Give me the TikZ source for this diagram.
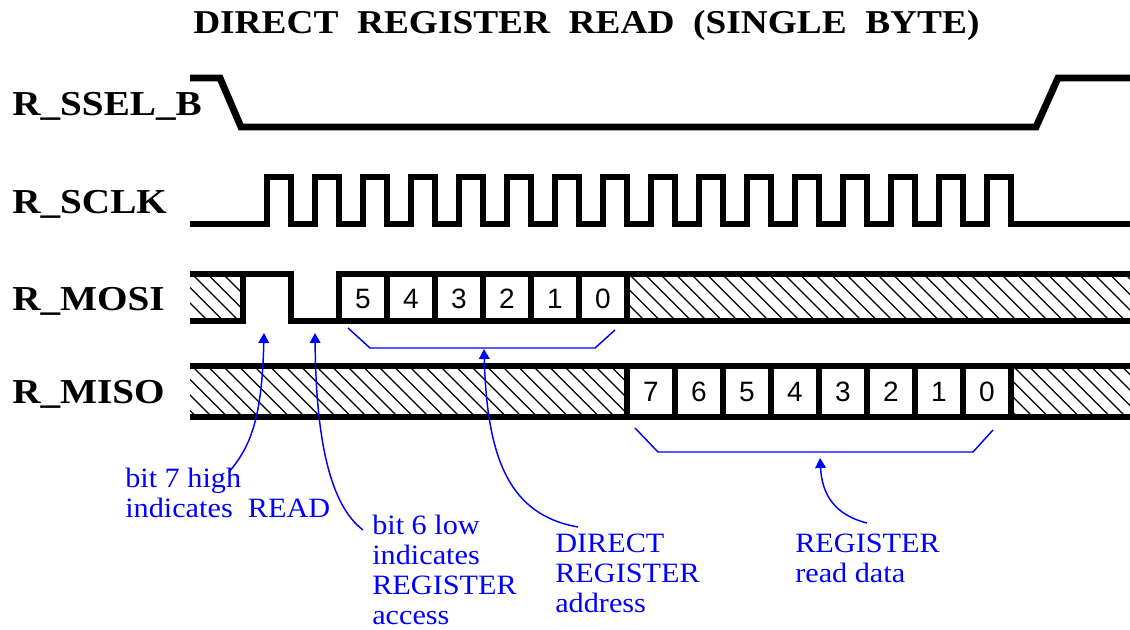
\documentclass[tikz,border=0pt]{standalone}
\usepackage{fontspec}
\setmainfont{Liberation Serif}
\newfontfamily\lblfont[FakeStretch=1.12]{Liberation Serif}
\newfontfamily\annfont[FakeStretch=1.08]{Liberation Serif}
\newfontfamily\digfont{Liberation Sans}
\usetikzlibrary{arrows.meta}
\definecolor{annblue}{RGB}{0,0,255}
\newcommand\hatchbox[4]{%
  \begin{scope}
    \clip (#1,#2) rectangle (#3,#4);
    \foreach \k in {0,...,40}{\draw[hatchline] ({#1-60+\k*15.5},#2) -- ++(60,60);}
  \end{scope}}
\begin{document}
\begin{tikzpicture}[x=0.75pt,y=-0.75pt,
  sig/.style={line width=5.2pt, line join=miter, line cap=butt},
  hatchline/.style={line width=0.9pt},
  ann/.style={draw=annblue, line width=1.1pt},
  annarrow/.style={ann, -{Triangle[length=7.5pt,width=8pt]}},
  anntext/.style={text=annblue, font=\annfont\fontsize{21pt}{22.5pt}\selectfont, inner sep=0pt, anchor=base west},
  siglabel/.style={font=\lblfont\bfseries\fontsize{26.25pt}{28pt}\selectfont, inner sep=0pt, anchor=base west},
  titlestyle/.style={font=\lblfont\bfseries\fontsize{25pt}{28pt}\selectfont, inner sep=0pt, anchor=base west},
  digit/.style={font=\digfont\fontsize{21pt}{24pt}\selectfont, inner sep=0pt}]
\useasboundingbox[fill=white] (0,0) rectangle (1130,629);

% title
\node[titlestyle] (title) at (193,33) {DIRECT\ \ REGISTER\ \ READ\ \ (SINGLE\ \ BYTE)};

% signal labels
\node[siglabel] (lssel) at (12,115) {R\_SSEL\_B};
\node[siglabel] (lsclk) at (12,213) {R\_SCLK};
\node[siglabel] (lmosi) at (12,310) {R\_MOSI};
\node[siglabel] (lmiso) at (12,403) {R\_MISO};

% R_SSEL_B
\draw[sig] (190,78) -- (220,78) -- (241,127) -- (1036,127) -- (1058,78) -- (1130,78);

% R_SCLK
\draw[sig] (190,224) \foreach \k in {0,...,15}{ -- ({267+48*\k},224) -- ({267+48*\k},177) -- ({291+48*\k},177) -- ({291+48*\k},224) } -- (1130,224);

% R_MOSI
\hatchbox{190}{274}{243}{321}
\hatchbox{627}{274}{1130}{321}
\draw[sig] (190,274) -- (291,274) -- (291,321) -- (1130,321);
\draw[sig] (190,321) -- (243,321) -- (243,274);
\draw[sig] (339,321) -- (339,274) -- (1130,274);
\foreach \x in {387,435,...,627} \draw[sig] (\x,274) -- (\x,321);
\foreach \d [count=\i from 0] in {5,4,3,2,1,0}
  \node[digit] (mo\i) at ({363+48*\i},298.5) {\d};

% R_MISO
\hatchbox{190}{366}{627}{417}
\hatchbox{1011}{366}{1130}{417}
\draw[sig] (190,366) -- (1130,366);
\draw[sig] (190,417) -- (1130,417);
\foreach \x in {627,675,...,1011} \draw[sig] (\x,366) -- (\x,417);
\foreach \d [count=\i from 0] in {7,6,5,4,3,2,1,0}
  \node[digit] (mi\i) at ({651+48*\i},392) {\d};

% brackets
\draw[ann] (348,328) -- (370,348) -- (595,348) -- (615,330);
\draw[ann] (635,428) -- (658,452) -- (973,452) -- (993,430);

% annotations
\node[anntext] (a7) at (125,487) {\begin{tabular}[t]{@{}l@{}}bit 7 high\\indicates\ \ READ\end{tabular}};
\node[anntext] (a6) at (372,534) {\begin{tabular}[t]{@{}l@{}}bit 6 low\\indicates\\REGISTER\\access\end{tabular}};
\node[anntext] (aaddr) at (555,552) {\begin{tabular}[t]{@{}l@{}}DIRECT\\REGISTER\\address\end{tabular}};
\node[anntext] (adata) at (795,552) {\begin{tabular}[t]{@{}l@{}}REGISTER\\read data\end{tabular}};

\coordinate (t7) at (264,333);
\coordinate (s7) at (229,472);
\coordinate (t6) at (315,333);
\coordinate (s6) at (363,530);
\coordinate (tad) at (484,349);
\coordinate (sad) at (578,527);
\coordinate (tda) at (820,458);
\coordinate (sda) at (867,523);

\draw[annarrow] (s7) .. controls (250,447) and (262,420) .. (t7);
\draw[annarrow] (s6) .. controls (330,505) and (316,440) .. (t6);
\draw[annarrow] (sad) .. controls (510,515) and (487,460) .. (tad);
\draw[annarrow] (sda) .. controls (835,515) and (822,495) .. (tda);
\end{tikzpicture}
\end{document}
